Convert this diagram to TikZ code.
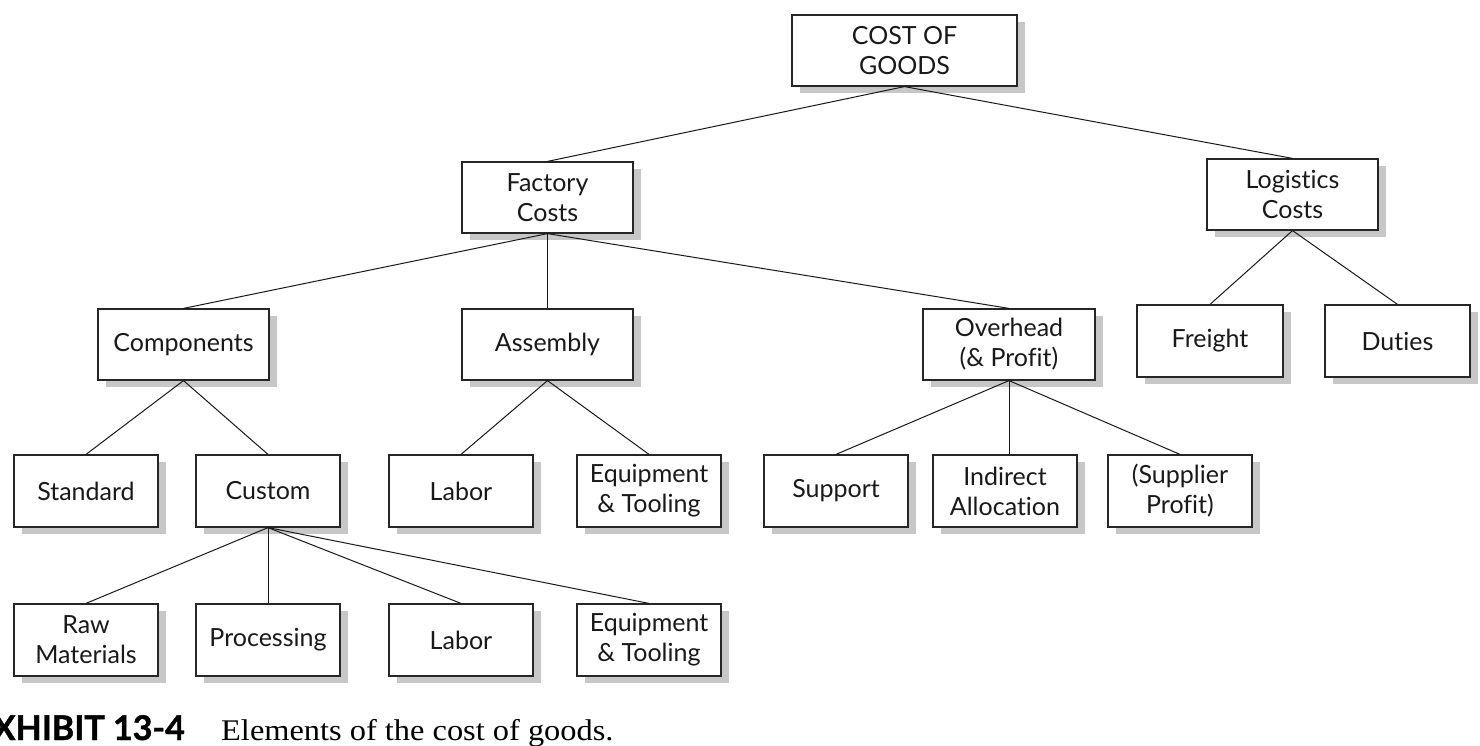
\documentclass[tikz,border=0pt]{standalone}
\usepackage{fontspec}
\setmainfont{Lato}[Ligatures={NoCommon,NoRare}]
\newfontfamily\capsans{Lato}[BoldFeatures={FakeBold=1.3}]
\newfontfamily\capserif[FakeStretch=1.08]{Liberation Serif}
\usetikzlibrary{shadows}
\tikzset{
  box/.style={draw=black!85, line width=1.2pt, fill=white, align=center,
    font=\fontsize{25}{30}\selectfont, inner sep=0pt, text=black!90,
    drop shadow={shadow xshift=8pt, shadow yshift=-7pt, fill=black!22, opacity=1}},
  bigbox/.style={box, minimum width=171pt, minimum height=71pt},
  smallbox/.style={box, minimum width=144pt, minimum height=72pt},
  link/.style={draw=black!90, line width=1pt},
  caphead/.style={font=\capsans\fontsize{34}{36}\selectfont\bfseries, inner sep=0pt, anchor=base east},
  captext/.style={font=\capserif\fontsize{30}{34}\selectfont, inner sep=0pt, anchor=base west},
}
\begin{document}
\begin{tikzpicture}[x=1pt,y=-1pt]
\useasboundingbox (0,0) rectangle (1480,746);
% level 0
\node[box, minimum width=225pt, minimum height=71pt] (cog) at (904.5,50.5) {COST OF\\GOODS};
% level 1
\node[bigbox] (fac) at (547.5,197.5) {Factory\\Costs};
\node[bigbox] (log) at (1292.5,194.5) {Logistics\\Costs};
% level 2
\node[bigbox] (comp) at (183.5,344.5) {Components};
\node[bigbox] (asm) at (547.5,344.5) {Assembly};
\node[bigbox, minimum width=172pt] (ovh) at (1009,344.5) {Overhead\\(\& Profit)};
\node[smallbox, minimum width=146pt] (fre) at (1210,341) {Freight};
\node[smallbox, minimum width=145pt] (dut) at (1397.5,341) {Duties};
% level 3
\node[smallbox] (std) at (86,491) {Standard};
\node[smallbox] (cus) at (268,491) {Custom};
\node[smallbox] (laba) at (461,491) {Labor};
\node[smallbox] (eqpa) at (649,491) {Equipment\\\& Tooling};
\node[smallbox] (sup) at (836,491) {Support};
\node[smallbox] (ind) at (1005,491) {Indirect\\Allocation};
\node[smallbox] (spp) at (1180,491) {(Supplier\\Profit)};
% level 4
\node[smallbox] (raw) at (86,640) {Raw\\Materials};
\node[smallbox] (pro) at (268,640) {Processing};
\node[smallbox] (labb) at (461,640) {Labor};
\node[smallbox] (eqpb) at (649,640) {Equipment\\\& Tooling};
% connectors
\draw[link] (cog.south) -- (fac.north);
\draw[link] (cog.south) -- (log.north);
\draw[link] (fac.south) -- (comp.north);
\draw[link] (fac.south) -- (asm.north);
\draw[link] (fac.south) -- (ovh.north);
\draw[link] (log.south) -- (fre.north);
\draw[link] (log.south) -- (dut.north);
\draw[link] (comp.south) -- (std.north);
\draw[link] (comp.south) -- (cus.north);
\draw[link] (asm.south) -- (laba.north);
\draw[link] (asm.south) -- (eqpa.north);
\draw[link] (ovh.south) -- (sup.north);
\draw[link] (ovh.south) -- (ovh.south |- ind.north);
\draw[link] (ovh.south) -- (spp.north);
\draw[link] (cus.south) -- (raw.north);
\draw[link] (cus.south) -- (pro.north);
\draw[link] (cus.south) -- (labb.north);
\draw[link] (cus.south) -- (eqpb.north);
% caption
\node[caphead] (exh) at (185,740) {EXHIBIT 13-4};
\node[captext] (cap) at (221,740) {Elements of the cost of goods.};
\end{tikzpicture}
\end{document}
